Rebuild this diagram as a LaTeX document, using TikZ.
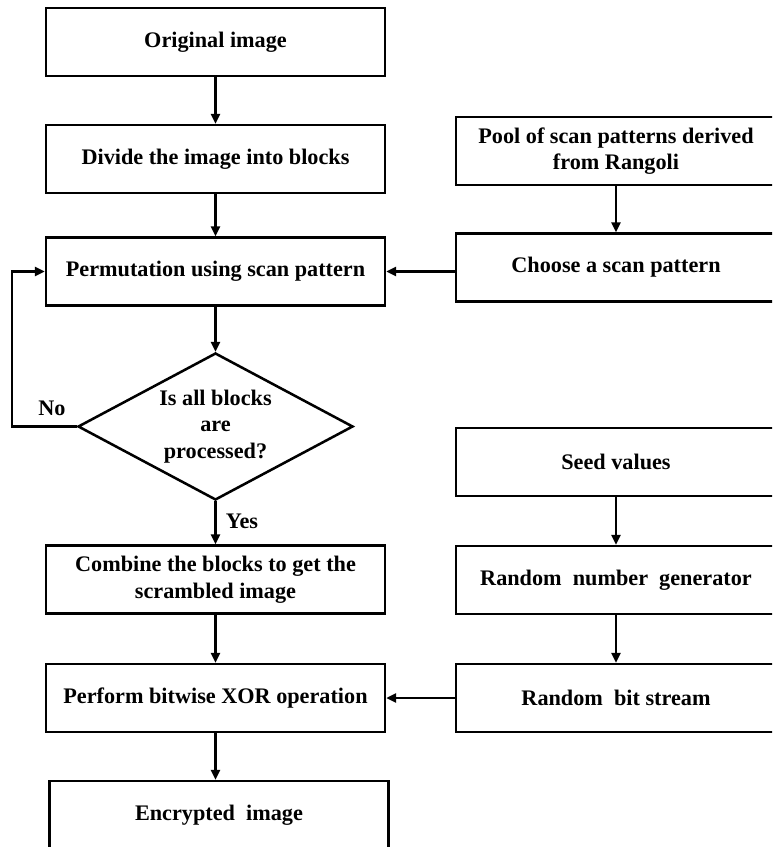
\documentclass[tikz,border=0pt]{standalone}
\usepackage{fontspec}
\setmainfont{Liberation Serif}
\usetikzlibrary{arrows.meta,shapes.geometric}
\newcommand{\LX}{215.5}
\newcommand{\RX}{616}
\newcommand{\LW}{8.475cm}
\newcommand{\RW}{8cm}
\newcommand{\BH}{1.7cm}

\begin{document}
\begin{tikzpicture}[x=0.025cm, y=-0.025cm,
    box/.style={draw=black, line width=1.8pt, minimum height=\BH, inner sep=2pt, align=center,
      font=\bfseries\fontsize{15.8}{19}\selectfont},
    lbox/.style={box, minimum width=\LW},
    rbox/.style={box, minimum width=\RW},
    test/.style={diamond, draw=black, line width=1.8pt, minimum width=6.875cm, minimum height=3.675cm,
      shape aspect=1.87, inner sep=0pt, align=center, font=\bfseries\fontsize{15.8}{19}\selectfont},
    lbl/.style={font=\bfseries\fontsize{15.8}{19}\selectfont},
    arr/.style={draw=black, line width=1.6pt, -{Triangle[length=7pt,width=6.5pt]}},
  ]
  \useasboundingbox (0,0) rectangle (772,847);
  \clip (0,0) rectangle (772,847);

  % left column
  \node[lbox] (orig) at (\LX,42)    {Original image};
  \node[lbox] (div)  at (\LX,159)   {Divide the image into blocks};
  \node[lbox] (perm) at (\LX,271.5) {Permutation using scan pattern};
  \node[test] (dec)  at (\LX,426.5) {Is all blocks\\are\\processed?};
  \node[lbox] (comb) at (\LX,579.5) {Combine the blocks to get the\\scrambled image};
  \node[lbox] (perf) at (\LX,698)   {Perform bitwise XOR operation};
  \node[lbox] (enc)  at (219,815)   {Encrypted\ \ image};

  % right column
  \node[rbox] (pool) at (\RX,151)   {Pool of scan patterns derived\\from Rangoli};
  \node[rbox] (pick) at (\RX,267.5) {Choose a scan pattern};
  \node[rbox] (seed) at (\RX,462)   {Seed values};
  \node[rbox] (rng)  at (\RX,580)   {Random\ \ number\ \ generator};
  \node[rbox] (bits) at (\RX,698)   {Random\ \ bit stream};

  \node[lbl] (no)  at (52,408)  {No};
  \node[lbl] (yes) at (242,521) {Yes};
  \coordinate (back) at (12,0);

  \draw[arr] (orig) -- (div);
  \draw[arr] (div) -- (perm);
  \draw[arr] (perm) -- (dec);
  \draw[arr] (dec) -- (comb);
  \draw[arr] (comb) -- (perf);
  \draw[arr] (perf.south) -- (perf.south |- enc.north);
  \draw[arr] (dec.west) -- (dec.west -| back) |- (perm.west);

  \draw[arr] (pool) -- (pick);
  \draw[arr] (pick.west |- perm.east) -- (perm.east);
  \draw[arr] (seed) -- (rng);
  \draw[arr] (rng) -- (bits);
  \draw[arr] (bits) -- (perf);

\end{tikzpicture}
\end{document}
